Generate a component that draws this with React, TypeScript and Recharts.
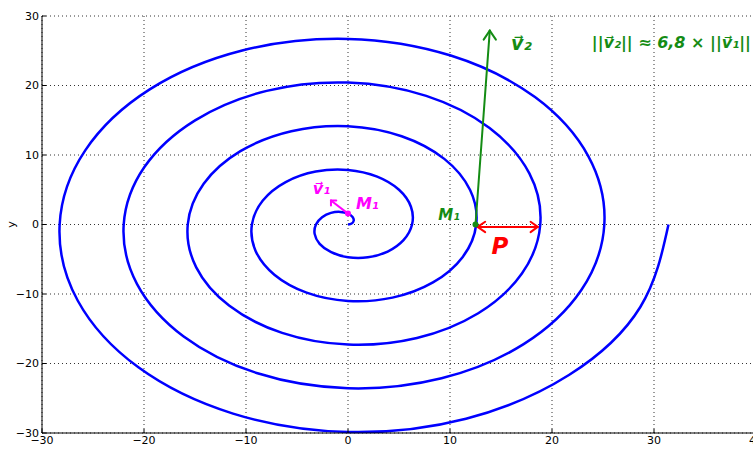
import { LineChart, Line, XAxis, YAxis, CartesianGrid, ReferenceLine, ReferenceDot } from "recharts"

// spiral, 16 points per turn, 5 turns
const spiralX = [
    0, 0.36, 0.56, 0.45, 0, -0.75, -1.67, -2.54, -3.14, -3.27, -2.78, -1.65, 0, 1.95, 3.89, 5.44,
    6.28, 6.17, 5.0, 2.86, 0, -3.16, -6.11, -8.35, -9.42, -9.07, -7.22, -4.06, 0, 4.36, 8.33, 11.25,
    12.57, 11.97, 9.44, 5.26, 0, -5.56, -10.55, -14.15, -15.71, -14.88, -11.66, -6.46, 0, 6.76, 12.77, 17.05,
    18.85, 17.78, 13.88, 7.67, 0, -7.97, -14.99, -19.96, -21.99, -20.68, -16.11, -8.87, 0, 9.17, 17.22, 22.86,
    25.13, 23.58, 18.33, 10.07, 0, -10.37, -19.44, -25.76, -28.27, -26.49, -20.55, -11.27, 0, 11.57, 21.66, 28.66,
    31.42,
]
const spiralY = [
    0, 0.15, 0.56, 1.09, 1.57, 1.81, 1.67, 1.05, 0, -1.35, -2.78, -3.99, -4.71, -4.72, -3.89, -2.25,
    0, 2.56, 5.0, 6.89, 7.85, 7.62, 6.11, 3.46, 0, -3.76, -7.22, -9.8, -11.0, -10.52, -8.33, -4.66,
    0, 4.96, 9.44, 12.7, 14.14, 13.42, 10.55, 5.86, 0, -6.16, -11.66, -15.6, -17.28, -16.33, -12.77, -7.06,
    0, 7.36, 13.88, 18.5, 20.42, 19.23, 14.99, 8.27, 0, -8.57, -16.11, -21.41, -23.56, -22.13, -17.22, -9.47,
    0, 9.77, 18.33, 24.31, 26.7, 25.03, 19.44, 10.67, 0, -10.97, -20.55, -27.21, -29.85, -27.94, -21.66, -11.87,
    0,
]
const xTicks = [-30, -20, -10, 0, 10, 20, 30, 40]
const yTicks = [-30, -20, -10, 0, 10, 20, 30]

const data = spiralX.map((x, i) => ({ x, y: spiralY[i] }))

const GREEN = "#148c14"
const MAGENTA = "#ff00ff"
const RED = "#ff0000"

// hand drawn strokes: [x1, y1, x2, y2]
const strokes: { color: string; p: number[] }[] = [
    // v1 arrow at M1 (magenta)
    { color: MAGENTA, p: [0, 1.57, -1.67, 3.45] },
    { color: MAGENTA, p: [-1.67, 3.45, -1.15, 3.45] },
    { color: MAGENTA, p: [-1.67, 3.45, -1.67, 2.75] },
    // v2 arrow at M1 (green)
    { color: GREEN, p: [12.5, 0, 13.9, 27.9] },
    { color: GREEN, p: [13.9, 27.9, 13.3, 26.6] },
    { color: GREEN, p: [13.9, 27.9, 14.5, 26.6] },
    // P double arrow (red)
    { color: RED, p: [12.7, -0.35, 18.6, -0.35] },
    { color: RED, p: [12.7, -0.35, 13.45, 0.4] },
    { color: RED, p: [12.7, -0.35, 13.45, -1.1] },
    { color: RED, p: [18.6, -0.35, 17.9, 0.4] },
    { color: RED, p: [18.6, -0.35, 17.9, -1.1] },
]

const notes: { text: string; x: number; y: number; color: string; size: number }[] = [
    { text: "v⃗₁", x: -2.6, y: 5.2, color: MAGENTA, size: 16 },
    { text: "M₁", x: 1.9, y: 3.0, color: MAGENTA, size: 16 },
    { text: "M₁", x: 9.9, y: 1.45, color: GREEN, size: 15 },
    { text: "v⃗₂", x: 17.0, y: 26.1, color: GREEN, size: 19 },
    { text: "||v⃗₂|| ≈ 6,8 × ||v⃗₁||", x: 31.7, y: 26.2, color: GREEN, size: 16 },
    { text: "P", x: 14.9, y: -3.0, color: RED, size: 23 },
]

const tickStyle = { fill: "#000", fontSize: 11, fontFamily: "DejaVu Sans" }
const minus = (v: number) => String(v).replace("-", "\u2212")

export default function App() {
    return (
        <div style={{ position: "absolute", left: 0, top: 0, background: "#fff" }}>
            <LineChart width={780} height={470} data={data} margin={{ top: 16, right: 24, bottom: 7, left: 0 }}>
                <CartesianGrid stroke="#333" strokeDasharray="1 3" />
                <XAxis
                    dataKey="x"
                    type="number"
                    domain={[-30, 40]}
                    ticks={xTicks}
                    height={30}
                    stroke="#000"
                    tickSize={-4}
                    tickMargin={7}
                    tick={tickStyle}
                    tickFormatter={minus}
                    label={{ value: "x", position: "insideBottom", offset: 8, fill: "#000", fontSize: 11, fontFamily: "DejaVu Sans" }}
                />
                <XAxis xAxisId="top" orientation="top" type="number" domain={[-30, 40]} ticks={xTicks} height={0} stroke="#000" tick={false} tickSize={-4} />
                <YAxis
                    type="number"
                    domain={[-30, 30]}
                    ticks={yTicks}
                    width={42}
                    stroke="#000"
                    tickSize={-4}
                    tickMargin={7}
                    tick={tickStyle}
                    tickFormatter={minus}
                    label={{
                        value: "y",
                        content: ({ viewBox }: any) => {
                            const cy = viewBox.y + viewBox.height / 2
                            return (
                                <text x={11} y={cy} transform={`rotate(-90 11 ${cy})`} textAnchor="middle" dominantBaseline="central" fontSize={11} fontFamily="DejaVu Sans" fill="#000">
                                    y
                                </text>
                            )
                        },
                    }}
                />
                <YAxis yAxisId="right" orientation="right" type="number" domain={[-30, 30]} ticks={yTicks} width={0} stroke="#000" tick={false} tickSize={-4} />
                <Line dataKey="y" type="natural" stroke="#0000ff" strokeWidth={2.5} dot={false} isAnimationActive={false} />
                {strokes.map((s, i) => (
                    <ReferenceLine
                        key={`s-${i}`}
                        segment={[{ x: s.p[0], y: s.p[1] }, { x: s.p[2], y: s.p[3] }]}
                        stroke={s.color}
                        strokeWidth={2}
                        strokeLinecap="round"
                    />
                ))}
                <ReferenceDot x={0} y={1.57} r={3} fill={MAGENTA} stroke="none" />
                <ReferenceDot x={12.5} y={0} r={3} fill={GREEN} stroke="none" />
                {notes.map((n, i) => (
                    <ReferenceDot
                        key={`n-${i}`}
                        x={n.x}
                        y={n.y}
                        r={0}
                        fill="none"
                        stroke="none"
                        label={{ value: n.text, position: "center", fill: n.color, fontSize: n.size, fontFamily: "DejaVu Sans", fontWeight: "bold", fontStyle: "italic" }}
                    />
                ))}
            </LineChart>
        </div>
    )
}
